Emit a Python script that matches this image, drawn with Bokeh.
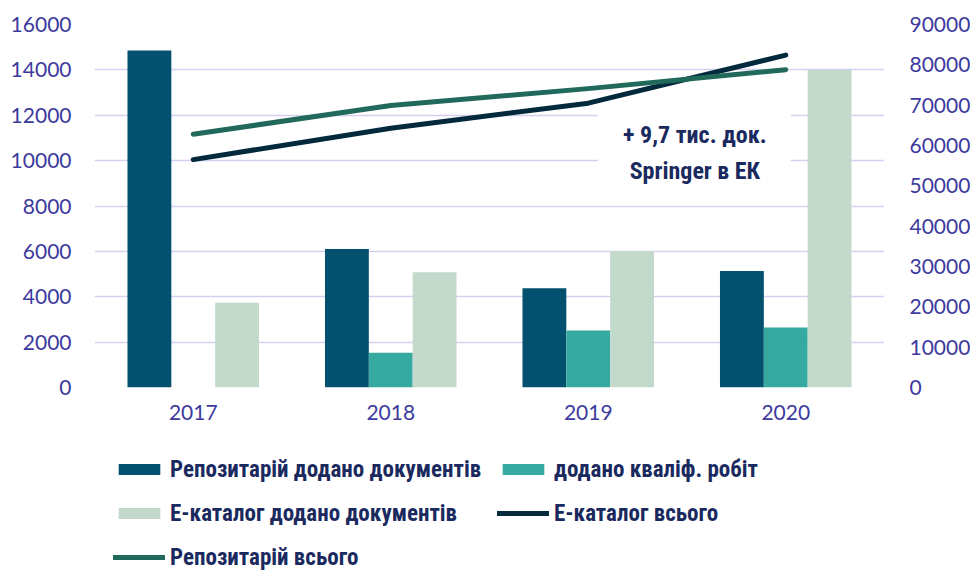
from bokeh.plotting import figure
from bokeh.layouts import column
from bokeh.models import (ColumnDataSource, FactorRange, Range1d, LinearAxis, FixedTicker,
                          BasicTickFormatter, Legend, LegendItem, Label, BoxAnnotation)
from bokeh.transform import dodge
from bokeh.embed import file_html
from bokeh.resources import INLINE

years = ["2017", "2018", "2019", "2020"]
repo_added = [14850, 6110, 4380, 5130]
qual_added = [0, 1530, 2510, 2650]
ecat_added = [3740, 5080, 6020, 14000]
ecat_total = [56500, 64300, 70500, 82400]
repo_total = [62800, 69900, 74100, 78800]
left_ticks = list(range(0, 16001, 2000))
right_ticks = list(range(0, 90001, 10000))
names = ["Репозитарій додано документів", "додано кваліф. робіт",
         "Е-каталог додано документів", "Е-каталог всього", "Репозитарій всього"]
note_lines = ["+ 9,7 тис. док.", "Springer в ЕК"]

C_REPO = "#03506F"
C_QUAL = "#36A9A0"
C_ECAT = "#C2D9CC"
C_ECAT_T = "#03293C"
C_REPO_T = "#216A5B"
GRID = "#D5D0F0"
TICK = "#3D3A9E"
TXT = "#1A2A5E"
TICK_FONT = "Lato"
NARROW = "'Roboto Condensed', 'DejaVu Sans Condensed', 'Liberation Sans Narrow', Roboto"

src = ColumnDataSource(dict(year=years, repo_added=repo_added, qual_added=qual_added,
                            ecat_added=ecat_added, ecat_total=ecat_total, repo_total=repo_total))

p = figure(frame_width=790, frame_height=363, x_range=FactorRange(*years, range_padding=0),
           y_range=Range1d(0, 16000), output_backend="svg", toolbar_location=None,
           min_border_left=94, min_border_right=0, min_border_top=24, min_border_bottom=0)
p.outline_line_color = None
p.xgrid.grid_line_color = None
p.ygrid.grid_line_color = GRID
p.ygrid.grid_line_width = 1.5

p.extra_y_ranges = {"right": Range1d(0, 90000)}

bw = 0.222
p.vbar(x=dodge("year", -bw, range=p.x_range), top="repo_added", width=bw, source=src,
       fill_color=C_REPO, line_color=None)
p.vbar(x=dodge("year", 0, range=p.x_range), top="qual_added", width=bw, source=src,
       fill_color=C_QUAL, line_color=None)
p.vbar(x=dodge("year", bw, range=p.x_range), top="ecat_added", width=bw, source=src,
       fill_color=C_ECAT, line_color=None)
p.line(x="year", y="ecat_total", source=src, y_range_name="right", line_width=5,
       line_color=C_ECAT_T, line_cap="round", line_join="round")
p.line(x="year", y="repo_total", source=src, y_range_name="right", line_width=5,
       line_color=C_REPO_T, line_cap="round", line_join="round")

for ax in [p.xaxis[0], p.yaxis[0]]:
    ax.axis_line_color = None
    ax.major_tick_line_color = None
    ax.minor_tick_line_color = None
    ax.major_label_text_color = TICK
    ax.major_label_text_font = TICK_FONT
    ax.major_label_text_font_size = "21px"
p.xaxis.major_label_standoff = 11
p.yaxis.ticker = FixedTicker(ticks=left_ticks)
p.yaxis.formatter = BasicTickFormatter(use_scientific=False)
p.yaxis.major_label_standoff = 17

rax = LinearAxis(y_range_name="right", ticker=FixedTicker(ticks=right_ticks),
                 formatter=BasicTickFormatter(use_scientific=False))
rax.axis_line_color = None
rax.major_tick_line_color = None
rax.minor_tick_line_color = None
rax.major_label_text_color = TICK
rax.major_label_text_font = TICK_FONT
rax.major_label_text_font_size = "21px"
rax.major_label_standoff = 19
p.add_layout(rax, "right")

# annotation box
p.add_layout(BoxAnnotation(left=2.55, right=3.525, bottom=8726, top=12252,
                           fill_color="white", fill_alpha=1.0, line_color=None))
for txt, yy in zip(note_lines, [11150, 9564]):
    p.add_layout(Label(x=3.04, y=yy, text=txt, text_align="center", text_baseline="middle",
                       text_font=NARROW, text_font_style="bold", text_font_size="24px",
                       text_color=TXT))

# legend figure below the chart
lg = figure(width=967, height=149, x_range=Range1d(0, 1), y_range=Range1d(0, 1),
            output_backend="svg", toolbar_location=None, min_border=0,
            x_axis_location=None, y_axis_location=None)
lg.outline_line_color = None
lg.grid.grid_line_color = None
g1 = lg.vbar(x=[-5], bottom=[-6], top=[-5], width=0.1, fill_color=C_REPO, line_color=None)
g2 = lg.vbar(x=[-5], bottom=[-6], top=[-5], width=0.1, fill_color=C_QUAL, line_color=None)
g3 = lg.vbar(x=[-5], bottom=[-6], top=[-5], width=0.1, fill_color=C_ECAT, line_color=None)
g4 = lg.line(x=[-5, -4], y=[-5, -5], line_width=5, line_color=C_ECAT_T, line_cap="round")
g5 = lg.line(x=[-5, -4], y=[-5, -5], line_width=5, line_color=C_REPO_T, line_cap="round")

items = [LegendItem(label=names[0], renderers=[g1]),
         LegendItem(label=names[1], renderers=[g2]),
         LegendItem(label=names[2], renderers=[g3]),
         LegendItem(label=names[3], renderers=[g4]),
         LegendItem(label=names[4], renderers=[g5])]
leg = Legend(items=items, location=(19, -2), orientation="horizontal", ncols=2,
             margin=0, padding=0, spacing=12, glyph_width=52, glyph_height=14,
             label_width=315, label_height=32, label_standoff=5,
             label_text_font=NARROW, label_text_font_style="bold",
             label_text_font_size="23px", label_text_color=TXT,
             border_line_color=None, background_fill_alpha=0)
lg.add_layout(leg, "center")

open("out.html", "w").write(file_html(column(p, lg), INLINE))
